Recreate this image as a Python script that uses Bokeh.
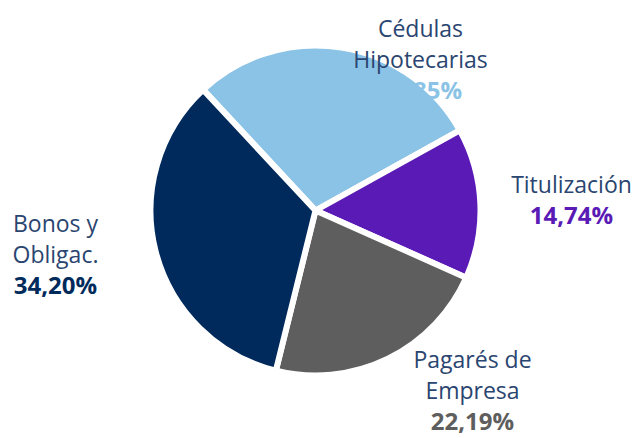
import math
from bokeh.plotting import figure
from bokeh.models import Range1d, ColumnDataSource
from bokeh.core.properties import value
from bokeh.embed import file_html
from bokeh.resources import INLINE

# ---- data ----
categories = ["Cédulas\nHipotecarias", "Titulización", "Pagarés de\nEmpresa", "Bonos y\nObligac."]
shares = [28.85, 14.74, 22.19, 34.20]
pct_labels = ["28,85%", "14,74%", "22,19%", "34,20%"]
colors = ["#8BC3E6", "#5A1AB5", "#5E5E5E", "#002A5C"]

# ---- layout ----
W, H = 634, 438
cx, cy = 315, H - 210
R = 165
start_deg = 132.9
label_pos = [(420, H - 27), (571, H - 183), (472, H - 358), (55, H - 222)]  # (x, first-line y)
line_h = 31
label_color = "#2A4570"

p = figure(width=W, height=H, output_backend="svg", toolbar_location=None,
           x_range=Range1d(0, W), y_range=Range1d(0, H), min_border=0)
p.axis.visible = False
p.grid.visible = False
p.outline_line_color = None

starts, ends = [], []
a = start_deg
for v in shares:
    b = a - v * 3.6
    starts.append(math.radians(b))
    ends.append(math.radians(a))
    a = b

src = ColumnDataSource(dict(start=starts, end=ends, color=colors))
p.wedge(x=cx, y=cy, radius=R, start_angle="start", end_angle="end",
        fill_color="color", line_color="white", line_width=6, source=src)

tx, ty, tt = [], [], []
px, py, pt, pc = [], [], [], []
for cat, pl, col, (x, ytop) in zip(categories, pct_labels, colors, label_pos):
    lines = cat.split("\n")
    for i, ln in enumerate(lines):
        tx.append(x); ty.append(ytop - i * line_h); tt.append(ln)
    px.append(x); py.append(ytop - len(lines) * line_h); pt.append(pl); pc.append(col)

p.text(x=tx, y=ty, text=tt, text_font=value("Open Sans"), text_font_size="23px",
       text_color=label_color, text_align="center", text_baseline="middle")
p.text(x=px, y=py, text=pt, text_font=value("Open Sans"), text_font_size="24px",
       text_font_style="bold", text_color=pc, text_align="center", text_baseline="middle")

open("out.html", "w").write(file_html(p, INLINE))
